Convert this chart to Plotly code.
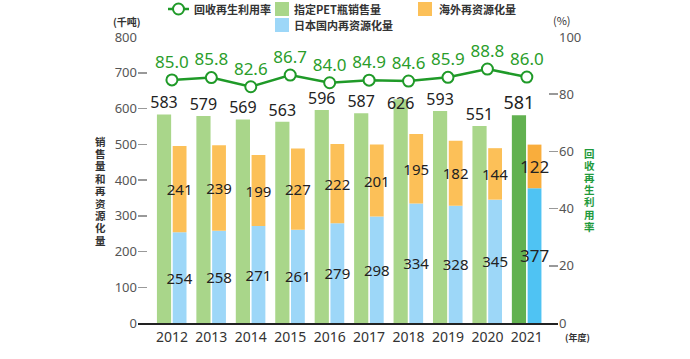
import plotly.graph_objects as go

years = [2012, 2013, 2014, 2015, 2016, 2017, 2018, 2019, 2020, 2021]
sales = [583, 579, 569, 563, 596, 587, 626, 593, 551, 581]
overseas = [241, 239, 199, 227, 222, 201, 195, 182, 144, 122]
domestic = [254, 258, 271, 261, 279, 298, 334, 328, 345, 377]
rate = [85.0, 85.8, 82.6, 86.7, 84.0, 84.9, 84.6, 85.9, 88.8, 86.0]

legend_line = "回收再生利用率"
legend_sales = "指定PET瓶销售量"
legend_overseas = "海外再资源化量"
legend_domestic = "日本国内再资源化量"
left_title = "销售量和再资源化量"
right_title = "回收再生利用率"

NUM = "Noto Sans, Noto Sans CJK SC, sans-serif"
CJK = "Noto Sans CJK SC, sans-serif"

n = len(years)
last = n - 1
green = ["#a9d68a"] * last + ["#62b150"]
orange = ["#fcc058"] * last + ["#f9ad3c"]
blue = ["#9dd7f8"] * last + ["#4fc3f3"]
sizes = [15] * last + [17]

fig = go.Figure()
fig.add_trace(go.Bar(x=years, y=sales, offset=-0.38, width=0.36,
                     marker=dict(color=green, line=dict(width=0)), showlegend=False,
                     hoverinfo="skip"))
fig.add_trace(go.Bar(x=years, y=domestic, offset=0.02, width=0.35,
                     marker=dict(color=blue, line=dict(width=0)),
                     text=[str(v) for v in domestic], textposition="inside",
                     insidetextanchor="middle", constraintext="none", textangle=0,
                     textfont=dict(family=NUM, size=sizes, color="#222"),
                     showlegend=False, hoverinfo="skip"))
fig.add_trace(go.Bar(x=years, y=overseas, base=domestic, offset=0.02, width=0.35,
                     marker=dict(color=orange, line=dict(width=0)),
                     text=[str(v) for v in overseas], textposition="inside",
                     insidetextanchor="middle", constraintext="none", textangle=0,
                     textfont=dict(family=NUM, size=sizes, color="#222"),
                     showlegend=False, hoverinfo="skip"))
# sales labels above green bars
pos = ["top center"] * n
pos[6] = "bottom center"
fig.add_trace(go.Scatter(x=[y - 0.2 for y in years], y=[v + 6 for v in sales], mode="text",
                         text=[str(v) for v in sales], textposition=pos,
                         textfont=dict(family=NUM, size=[16] * last + [18], color="#222"),
                         cliponaxis=False, showlegend=False, hoverinfo="skip"))
fig.add_trace(go.Scatter(x=years, y=rate, yaxis="y2", mode="lines+markers+text",
                         line=dict(color="#1f9a28", width=2.5),
                         marker=dict(size=11, color="white", line=dict(color="#1f9a28", width=2)),
                         text=[f"{v:.1f}" for v in rate], textposition="top center",
                         textfont=dict(family=NUM, size=17, color="#2a9d2a"),
                         cliponaxis=False, showlegend=False, hoverinfo="skip"))

FW, FH = 690, 359
L, R, T, B = 138, 558, 37, 323
W, H = R - L, B - T
def px(x):
    return (x - L) / W
def py(y):
    return (B - y) / H

shapes = [
    dict(type="line", xref="paper", yref="paper", x0=px(168), x1=px(189), y0=py(9), y1=py(9),
         line=dict(color="#1f9a28", width=2.5)),
    dict(type="circle", xref="paper", yref="paper", x0=px(173), x1=px(184), y0=py(14.5), y1=py(3.5),
         fillcolor="white", line=dict(color="#1f9a28", width=2)),
    dict(type="rect", xref="paper", yref="paper", x0=px(275), x1=px(289), y0=py(16), y1=py(2),
         fillcolor="#a9d68a", line=dict(width=0)),
    dict(type="rect", xref="paper", yref="paper", x0=px(418), x1=px(432), y0=py(16), y1=py(2),
         fillcolor="#fcc058", line=dict(width=0)),
    dict(type="rect", xref="paper", yref="paper", x0=px(275), x1=px(289), y0=py(32), y1=py(18),
         fillcolor="#9dd7f8", line=dict(width=0)),
]

def ann(text, x, y, size=11, color="#333", xanchor="left", bold=True, family=CJK):
    t = f"<b>{text}</b>" if bold else text
    return dict(text=t, x=px(x), y=py(y), xref="paper", yref="paper", showarrow=False,
                xanchor=xanchor, yanchor="middle", font=dict(family=family, size=size, color=color))

annotations = [
    ann(legend_line, 192, 9),
    ann(legend_sales, 292, 9),
    ann(legend_overseas, 437, 9),
    ann(legend_domestic, 292, 25),
    ann("(千吨)", 127, 22, size=10, xanchor="center"),
    ann("(%)", 562, 20, size=11, xanchor="center", bold=False),
    ann("(年度)", 577, 337, size=9, xanchor="center"),
]
for i, ch in enumerate(left_title):
    annotations.append(ann(ch, 100, 141 + i * 12.4, size=10.5, xanchor="center"))
for i, ch in enumerate(right_title):
    annotations.append(ann(ch, 589, 153 + i * 12.2, size=10.5, xanchor="center",
                           color="#1f9a3c"))

fig.update_layout(
    width=FW, height=FH, autosize=False,
    margin=dict(l=L, r=FW - R, t=T, b=FH - B, pad=0),
    plot_bgcolor="white", paper_bgcolor="white",
    barmode="overlay", showlegend=False, hovermode=False,
    xaxis=dict(range=[2011.14, 2021.79], tickvals=years, ticktext=[str(y) for y in years],
               showline=True, linecolor="#222", linewidth=2, showgrid=False, zeroline=False,
               ticks="", tickfont=dict(family=NUM, size=14, color="#333")),
    yaxis=dict(range=[0, 800], dtick=100, showgrid=False, zeroline=False, showline=False,
               ticks="inside", ticklen=9, tickwidth=1.5, tickcolor="#999",
               tickfont=dict(family=NUM, size=13, color="#555")),
    yaxis2=dict(range=[0, 100], dtick=20, overlaying="y", side="right", showgrid=False,
                zeroline=False, showline=False, ticks="inside", ticklen=9, tickwidth=1.5,
                tickcolor="#999", tickfont=dict(family=NUM, size=13, color="#555")),
    shapes=shapes, annotations=annotations,
)
fig.write_html("out.html", config={"displayModeBar": False, "staticPlot": True},
               post_script="document.body.style.margin='0';document.body.style.overflow='hidden';")
